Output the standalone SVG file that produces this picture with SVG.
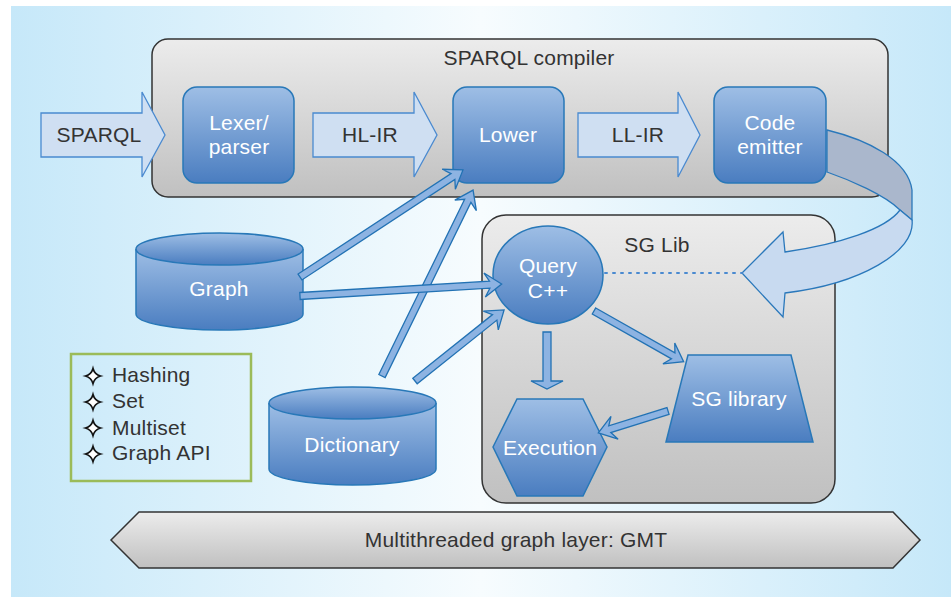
<svg xmlns="http://www.w3.org/2000/svg" width="951" height="597" viewBox="0 0 951 597">
  <defs>
    <linearGradient id="bg" x1="0" y1="0" x2="1" y2="0">
      <stop offset="0" stop-color="#c6e8f9"/>
      <stop offset="0.5" stop-color="#f7fcfe"/>
      <stop offset="1" stop-color="#c6e8f9"/>
    </linearGradient>
    <linearGradient id="panel" x1="0" y1="0" x2="0" y2="1">
      <stop offset="0" stop-color="#ececec"/>
      <stop offset="1" stop-color="#c0c0c0"/>
    </linearGradient>
    <linearGradient id="node" x1="0" y1="0" x2="0" y2="1">
      <stop offset="0" stop-color="#9ebee5"/>
      <stop offset="1" stop-color="#4a7dc0"/>
    </linearGradient>
    <!-- four-pointed star list marker -->
    <path id="star" d="M0,-7.5 Q1.6,-1.6 7.5,0 Q1.6,1.6 0,7.5 Q-1.6,1.6 -7.5,0 Q-1.6,-1.6 0,-7.5 Z" fill="#fff" stroke="#111" stroke-width="1.7" stroke-linejoin="miter"/>
    <style>
      .panel { fill: url(#panel); stroke: #333; stroke-width: 1.5; }
      .node { fill: url(#node); stroke: #2878b8; stroke-width: 1.5; }
      .flow { fill: #cfdff2; stroke: #4a8ad0; stroke-width: 1.3; }
      .conn { fill: #8db3e2; stroke: #2272b4; stroke-width: 1.3; }
      text { font-family: "Liberation Sans", Arial, sans-serif; font-size: 21px; letter-spacing: 0.2px; text-anchor: middle; }
      .dark { fill: #333; }
      .light { fill: #fff; }
      .item { text-anchor: start; fill: #333; }
    </style>
  </defs>

  <!-- backdrop -->
  <rect x="11" y="6" width="940" height="591" fill="url(#bg)"/>

  <!-- containers -->
  <g id="sparql-compiler">
    <rect class="panel" x="152" y="39" width="736" height="158" rx="16"/>
    <text class="dark" x="529" y="65">SPARQL compiler</text>
  </g>
  <g id="sg-lib">
    <rect class="panel" x="482" y="215" width="353" height="288" rx="24"/>
    <text class="dark" x="657" y="252">SG Lib</text>
  </g>
  <g id="gmt">
    <polygon class="panel" points="111,540 139,512 893,512 920,540 893,568 139,568"/>
    <text class="dark" x="516" y="547">Multithreaded graph layer: GMT</text>
  </g>

  <!-- compiler pipeline block arrows -->
  <g id="arrow-sparql">
    <polygon class="flow" points="41,113 142,113 142,92 165,135 142,177 142,157 41,157"/>
    <text class="dark" x="99" y="142">SPARQL</text>
  </g>
  <g id="arrow-hlir">
    <polygon class="flow" points="313,113 414,113 414,92 437,135 414,177 414,157 313,157"/>
    <text class="dark" x="370" y="142">HL-IR</text>
  </g>
  <g id="arrow-llir">
    <polygon class="flow" points="578,113 678,113 678,92 700,135 678,177 678,157 578,157"/>
    <text class="dark" x="638" y="142">LL-IR</text>
  </g>

  <!-- nodes -->
  <g id="lexer">
    <rect class="node" x="183" y="87" width="111" height="96" rx="14"/>
    <text class="light" x="239" y="130">Lexer/</text>
    <text class="light" x="239" y="154">parser</text>
  </g>
  <g id="lower">
    <rect class="node" x="453" y="87" width="111" height="96" rx="14"/>
    <text class="light" x="508" y="142">Lower</text>
  </g>
  <g id="code-emitter">
    <rect class="node" x="714" y="87" width="112" height="96" rx="14"/>
    <text class="light" x="770" y="130">Code</text>
    <text class="light" x="770" y="154">emitter</text>
  </g>
  <g id="graph">
    <path class="node" d="M136,249 L136,314 A83.5,16 0 0 0 303,314 L303,249"/>
    <ellipse class="node" cx="219.5" cy="249" rx="83.5" ry="16"/>
    <text class="light" x="219" y="296">Graph</text>
  </g>
  <g id="dictionary">
    <path class="node" d="M269,403 L269,469 A83.5,16 0 0 0 436,469 L436,403"/>
    <ellipse class="node" cx="352.5" cy="403" rx="83.5" ry="16"/>
    <text class="light" x="352" y="452">Dictionary</text>
  </g>
  <g id="query">
    <ellipse class="node" cx="548" cy="275" rx="55" ry="49"/>
    <text class="light" x="548" y="273">Query</text>
    <text class="light" x="548" y="298">C++</text>
  </g>
  <g id="execution">
    <polygon class="node" points="493,447 517,399 583,399 607,447 583,496 517,496"/>
    <text class="light" x="550" y="455">Execution</text>
  </g>
  <g id="sg-library">
    <polygon class="node" points="688,355 791,355 813,442 666,442"/>
    <text class="light" x="739" y="406">SG library</text>
  </g>
  <g id="legend">
    <rect x="71" y="354" width="180" height="127" fill="none" stroke="#9bbb59" stroke-width="2.5"/>
    <use href="#star" x="93" y="376"/>
    <text class="item" x="112" y="382">Hashing</text>
    <use href="#star" x="93" y="402"/>
    <text class="item" x="112" y="408">Set</text>
    <use href="#star" x="93" y="428"/>
    <text class="item" x="112" y="435">Multiset</text>
    <use href="#star" x="93" y="454"/>
    <text class="item" x="112" y="460">Graph API</text>
  </g>

  <!-- connectors -->
  <g id="connectors">
    <!-- emitted code loops back into the library -->
    <path d="M827,130 C868,140 908,160 912,190 L912,220 L900,210 C885,195 850,180 827,172 Z" fill="#aab7cc" stroke="#2a78bb" stroke-width="1.3"/>
    <path d="M900,210 L912,220 C916,252 860,284 785,293 L783,317 L742,273 L783,232 L785,252 C840,244 886,229 900,210 Z" fill="#c8daf0" stroke="#2a78bb" stroke-width="1.3"/>
    <line x1="605" y1="273" x2="742" y2="273" stroke="#4a8ad0" stroke-width="2" stroke-dasharray="2 6" stroke-linecap="round"/>

    <!-- Graph -> Lower -->
    <path class="conn" transform="translate(300,277) rotate(-33.3)" d="M0,-3.5 L183,-3.5 L178,-12 L195,0 L178,12 L183,3.5 L0,3.5 Z"/>
    <!-- Dictionary -> Lower -->
    <path class="conn" transform="translate(382,376) rotate(-63.9)" d="M0,-3.5 L195,-3.5 L190,-12 L207,0 L190,12 L195,3.5 L0,3.5 Z"/>
    <!-- Graph -> Query -->
    <path class="conn" transform="translate(300,296) rotate(-3.4)" d="M0,-3.5 L190,-3.5 L185,-12 L202,0 L185,12 L190,3.5 L0,3.5 Z"/>
    <!-- Dictionary -> Query -->
    <path class="conn" transform="translate(415,381) rotate(-38.6)" d="M0,-3.5 L102,-3.5 L97,-12 L114,0 L97,12 L102,3.5 L0,3.5 Z"/>
    <!-- Query -> SG library -->
    <path class="conn" transform="translate(594,311) rotate(29.5)" d="M0,-3.5 L91,-3.5 L86,-12 L103,0 L86,12 L91,3.5 L0,3.5 Z"/>
    <!-- SG library -> Execution -->
    <path class="conn" transform="translate(668,411) rotate(162.6)" d="M0,-3.5 L61,-3.5 L56,-12 L73,0 L56,12 L61,3.5 L0,3.5 Z"/>
    <!-- Query -> Execution -->
    <polygon class="conn" points="543,332 551,332 551,381 563,381 547,389 531,381 543,381"/>
  </g>
</svg>
